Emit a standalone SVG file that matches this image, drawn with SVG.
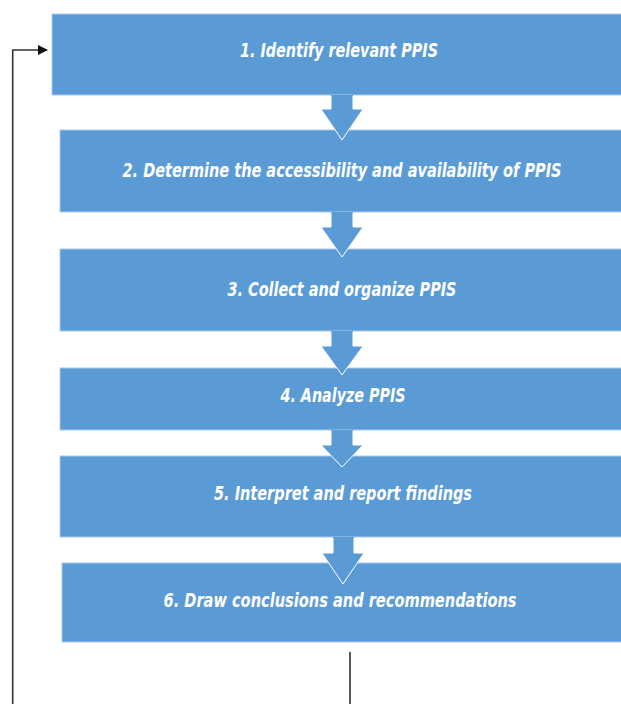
<svg xmlns="http://www.w3.org/2000/svg" width="621" height="704" viewBox="0 0 621 704">
  <defs>
    <style>
      .step { fill: #5b9bd5; stroke: #a9c9ea; stroke-width: 1; }
      .label { fill: #ffffff; font-family: "Liberation Sans Narrow", "DejaVu Sans Condensed", "Liberation Sans", sans-serif; font-style: italic; font-weight: bold; font-size: 19px; text-anchor: middle; }
      .flow { fill: #5b9bd5; stroke: #ffffff; stroke-width: 1; stroke-linejoin: miter; }
      .wire { fill: none; stroke: #333333; stroke-width: 1.6; }
    </style>
    <marker id="head" viewBox="0 0 10 10" refX="9" refY="5" markerWidth="10" markerHeight="10" markerUnits="userSpaceOnUse" orient="auto">
      <path d="M0,0 L10,5 L0,10 z" fill="#111111"/>
    </marker>
  </defs>

  <rect width="621" height="704" fill="#ffffff"/>

  <!-- process steps -->
  <g id="step1">
    <rect class="step" x="52" y="14" width="570" height="81"/>
    <text class="label" x="339" y="57" textLength="198" lengthAdjust="spacingAndGlyphs">1. Identify relevant PPIS</text>
  </g>
  <g id="step2">
    <rect class="step" x="60" y="130" width="562" height="82"/>
    <text class="label" x="342" y="177" textLength="439" lengthAdjust="spacingAndGlyphs">2. Determine the accessibility and availability of PPIS</text>
  </g>
  <g id="step3">
    <rect class="step" x="60" y="249" width="562" height="82"/>
    <text class="label" x="342" y="296" textLength="229" lengthAdjust="spacingAndGlyphs">3. Collect and organize PPIS</text>
  </g>
  <g id="step4">
    <rect class="step" x="60" y="368" width="562" height="62"/>
    <text class="label" x="343" y="402" textLength="125" lengthAdjust="spacingAndGlyphs">4. Analyze PPIS</text>
  </g>
  <g id="step5">
    <rect class="step" x="60" y="456" width="562" height="81"/>
    <text class="label" x="343" y="500" textLength="258" lengthAdjust="spacingAndGlyphs">5. Interpret and report findings</text>
  </g>
  <g id="step6">
    <rect class="step" x="62" y="563" width="560" height="79"/>
    <text class="label" x="340" y="607" textLength="353" lengthAdjust="spacingAndGlyphs">6. Draw conclusions and recommendations</text>
  </g>

  <!-- connectors: block arrows between steps (outline left open at the top) and the feedback loop -->
  <g id="connectors">
    <path fill="#5b9bd5" d="M331,95 L353,95 L353,109 L363,109 L342,140 L321,109 L331,109 Z"/>
    <path class="flow" fill="none" d="M331,96 L331,109 L321,109 L342,140 L363,109 L353,109 L353,96"/>
    <path fill="#5b9bd5" d="M331,212 L353,212 L353,227 L363,227 L342,257 L321,227 L331,227 Z"/>
    <path class="flow" fill="none" d="M331,213 L331,227 L321,227 L342,257 L363,227 L353,227 L353,213"/>
    <path fill="#5b9bd5" d="M331,331 L353,331 L353,346 L363,346 L342,375 L321,346 L331,346 Z"/>
    <path class="flow" fill="none" d="M331,332 L331,346 L321,346 L342,375 L363,346 L353,346 L353,332"/>
    <path fill="#5b9bd5" d="M331,430 L353,430 L353,445 L363,445 L342,467 L321,445 L331,445 Z"/>
    <path class="flow" fill="none" d="M331,431 L331,445 L321,445 L342,467 L363,445 L353,445 L353,431"/>
    <path fill="#5b9bd5" d="M333,537 L354,537 L354,553 L364,553 L343,584 L322,553 L333,553 Z"/>
    <path class="flow" fill="none" d="M333,538 L333,553 L322,553 L343,584 L364,553 L354,553 L354,538"/>
    <path class="wire" d="M12.7,704 L12.7,50 L47,50" marker-end="url(#head)"/>
    <path class="wire" d="M350,652 L350,704"/>
  </g>
</svg>
